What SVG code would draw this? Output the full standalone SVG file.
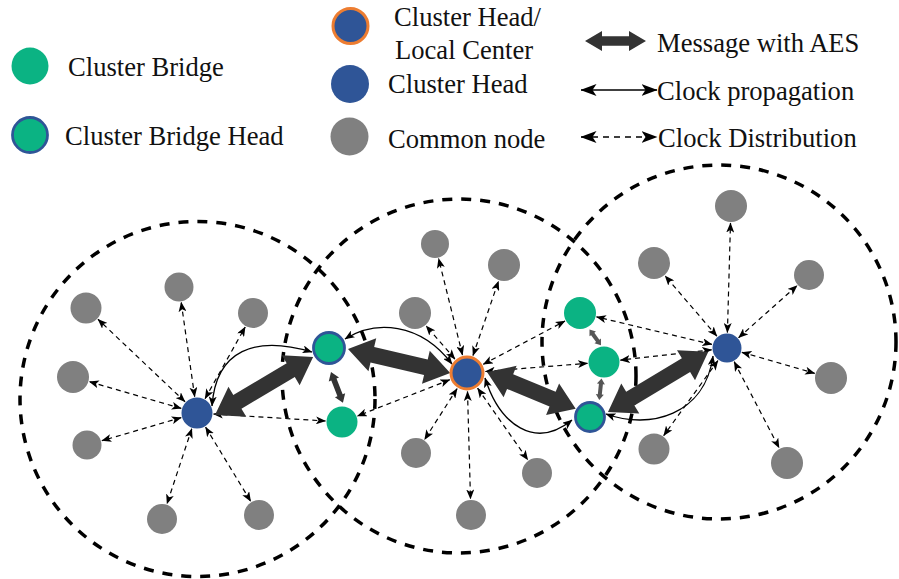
<svg xmlns="http://www.w3.org/2000/svg" width="899" height="579" viewBox="0 0 899 579">
<style>
text{font-family:"Liberation Serif","Times New Roman",serif;font-size:26.6px;fill:#111}
.zone{fill:none;stroke:#000;stroke-width:3.5;stroke-dasharray:10 9}
.com{fill:#808080}
.ch{fill:#2F5597}
.br{fill:#0BB383}
.bh{fill:#0BB383;stroke:#2F5597;stroke-width:2.8}
.lc{fill:#2F5597;stroke:#ED7D31;stroke-width:3}
.dist{fill:none;stroke:#000;stroke-width:1.2;stroke-dasharray:5 4;marker-start:url(#ah);marker-end:url(#ah)}
.prop{fill:none;stroke:#000;stroke-width:1.3;marker-start:url(#ah);marker-end:url(#ah)}
.aes{fill:#333}
.aes2{fill:#555}
</style>
<defs>
<marker id="ah" viewBox="0 0 10 8" markerWidth="10" markerHeight="8" refX="9.5" refY="4" orient="auto-start-reverse" markerUnits="userSpaceOnUse"><path d="M0,0 L10,4 L0,8 L2.5,4 Z" fill="#000"/></marker>
<marker id="ahL" viewBox="0 0 16 12" markerWidth="16" markerHeight="12" refX="15.5" refY="6" orient="auto-start-reverse" markerUnits="userSpaceOnUse"><path d="M0,0 L16,6 L0,12 L4,6 Z" fill="#000"/></marker>
</defs>

<g id="legend">
  <g id="leg-bridge"><circle class="br" cx="30" cy="66" r="18.5"/><text x="68" y="76">Cluster Bridge</text></g>
  <g id="leg-bridge-head"><circle class="bh" cx="30" cy="135" r="17.5"/><text x="65" y="145">Cluster Bridge Head</text></g>
  <g id="leg-local-center"><circle class="lc" cx="350.5" cy="26" r="17.5"/><text x="394" y="26">Cluster Head/</text><text x="395" y="59">Local Center</text></g>
  <g id="leg-cluster-head"><circle class="ch" cx="350" cy="84" r="19"/><text x="388" y="92.5">Cluster Head</text></g>
  <g id="leg-common"><circle class="com" cx="349.5" cy="136.5" r="19"/><text x="388" y="148">Common node</text></g>
  <g id="leg-aes"><path class="aes" transform="translate(585,41)" d="M0,0 L17,-10 L17,-4.7 L44,-4.7 L44,-10 L61,0 L44,10 L44,4.7 L17,4.7 L17,10 Z"/><text x="657" y="52">Message with AES</text></g>
  <g id="leg-prop"><path d="M581,90 L657,90" fill="none" stroke="#000" stroke-width="1.3" marker-start="url(#ahL)" marker-end="url(#ahL)"/><text x="657" y="100">Clock propagation</text></g>
  <g id="leg-dist"><path d="M581,137 L657,137" fill="none" stroke="#000" stroke-width="1.3" stroke-dasharray="6 5" marker-start="url(#ahL)" marker-end="url(#ahL)"/><text x="658" y="147">Clock Distribution</text></g>
</g>

<g id="zones">
  <circle class="zone" cx="197.5" cy="399" r="177.5"/>
  <circle class="zone" cx="459" cy="376" r="177"/>
  <circle class="zone" cx="719" cy="342" r="177"/>
</g>

<g id="connectors">
  <!-- clock distribution, left cluster -->
  <path class="dist" d="M185,401.7 L98,319.3"/>
  <path class="dist" d="M194.7,396.7 L181.2,302.3"/>
  <path class="dist" d="M205.1,398.6 L245.2,327"/>
  <path class="dist" d="M181.2,408.4 L89.3,381.7"/>
  <path class="dist" d="M181.2,417.6 L101.9,440.7"/>
  <path class="dist" d="M191.8,428.7 L167,503.8"/>
  <path class="dist" d="M205.6,427.1 L250.7,501.3"/>
  <path class="dist" d="M213.5,414 L325.5,421"/>
  <!-- clock distribution, middle cluster -->
  <path class="dist" d="M462.5,355 L438.6,258.6"/>
  <path class="dist" d="M473,355.5 L498.5,281.1"/>
  <path class="dist" d="M454.9,359 L426.1,325.8"/>
  <path class="dist" d="M457.1,388.6 L424.6,439.5"/>
  <path class="dist" d="M467.5,391.5 L470.5,499"/>
  <path class="dist" d="M477.6,388.2 L527.8,459.9"/>
  <path class="dist" d="M449.8,379.8 L357.4,416"/>
  <path class="dist" d="M483.3,364.3 L565,321"/>
  <path class="dist" d="M485.4,371.5 L587.5,363.3"/>
  <!-- clock distribution, right cluster -->
  <path class="dist" d="M727.4,332.5 L730.5,223"/>
  <path class="dist" d="M716.9,336.2 L665.1,275.9"/>
  <path class="dist" d="M738.6,337.7 L797.1,285.6"/>
  <path class="dist" d="M741.9,352.3 L814.7,373.3"/>
  <path class="dist" d="M734.2,361.7 L779.1,447.9"/>
  <path class="dist" d="M717.9,360.6 L663.7,435.6"/>
  <path class="dist" d="M711.9,344.4 L596.5,316.9"/>
  <path class="dist" d="M711.6,349.8 L620.4,360.1"/>
  <!-- clock propagation -->
  <path class="prop" d="M212,406 C216,350 255,335 312,352"/>
  <path class="prop" d="M345,339 C375,320 420,322 452,364"/>
  <path class="prop" d="M485,378 C500,425 535,450 572,420"/>
  <path class="prop" d="M606,414 C650,430 705,415 713,356"/>
  <!-- messages with AES -->
  <path class="aes" transform="translate(215,415) rotate(-30.6)" d="M0,0 L26,-17.5 L26,-8 L88,-8 L88,-17.5 L114,0 L88,17.5 L88,8 L26,8 L26,17.5 Z"/>
  <path class="aes" transform="translate(348,349) rotate(13.2)" d="M0,0 L25,-17 L25,-8 L80,-8 L80,-17 L105,0 L80,17 L80,8 L25,8 L25,17 Z"/>
  <path class="aes" transform="translate(487,372) rotate(22.5)" d="M0,0 L25,-17 L25,-8 L71,-8 L71,-17 L96,0 L71,17 L71,8 L25,8 L25,17 Z"/>
  <path class="aes" transform="translate(608,412) rotate(-31)" d="M0,0 L26,-17.5 L26,-8 L91,-8 L91,-17.5 L117,0 L91,17.5 L91,8 L26,8 L26,17.5 Z"/>
  <path class="aes" transform="translate(331,372) rotate(68.8)" d="M0,0 L8,-5.5 L8,-2.8 L25,-2.8 L25,-5.5 L33,0 L25,5.5 L25,2.8 L8,2.8 L8,5.5 Z"/>
  <path class="aes2" transform="translate(589.5,329.5) rotate(54)" d="M0,0 L5.5,-4 L5.5,-2 L14,-2 L14,-4 L19.5,0 L14,4 L14,2 L5.5,2 L5.5,4 Z"/>
  <path class="aes2" transform="translate(601.5,378.5) rotate(96)" d="M0,0 L5.5,-4 L5.5,-2 L16,-2 L16,-4 L21.5,0 L16,4 L16,2 L5.5,2 L5.5,4 Z"/>
</g>

<g id="nodes">
  <g id="head-left"><circle class="ch" cx="197" cy="413" r="15.5"/></g>
  <g id="n-l1"><circle class="com" cx="86" cy="308" r="15.5"/></g>
  <g id="n-l2"><circle class="com" cx="179" cy="287" r="14.5"/></g>
  <g id="n-l3"><circle class="com" cx="253" cy="313" r="15"/></g>
  <g id="n-l4"><circle class="com" cx="73" cy="377" r="16"/></g>
  <g id="n-l5"><circle class="com" cx="87" cy="445" r="14.5"/></g>
  <g id="n-l6"><circle class="com" cx="162" cy="519" r="15"/></g>
  <g id="n-l7"><circle class="com" cx="259" cy="515" r="15"/></g>

  <g id="bridge-head-left"><circle class="bh" cx="329" cy="348" r="15.5"/></g>
  <g id="bridge-left"><circle class="br" cx="342" cy="422" r="15.5"/></g>

  <g id="local-center"><circle class="lc" cx="467" cy="373" r="16"/></g>
  <g id="n-m1"><circle class="com" cx="435" cy="244" r="14"/></g>
  <g id="n-m2"><circle class="com" cx="504" cy="265" r="16"/></g>
  <g id="n-m3"><circle class="com" cx="415" cy="313" r="16"/></g>
  <g id="n-m4"><circle class="com" cx="416" cy="453" r="15"/></g>
  <g id="n-m5"><circle class="com" cx="471" cy="515" r="15"/></g>
  <g id="n-m6"><circle class="com" cx="537" cy="473" r="15"/></g>

  <g id="bridge-right-top"><circle class="br" cx="580" cy="313" r="16"/></g>
  <g id="bridge-right-mid"><circle class="br" cx="604" cy="362" r="15.5"/></g>
  <g id="bridge-head-right"><circle class="bh" cx="590" cy="417" r="14.5"/></g>

  <g id="head-right"><circle class="ch" cx="727" cy="348" r="14.5"/></g>
  <g id="n-r1"><circle class="com" cx="731" cy="206" r="16"/></g>
  <g id="n-r2"><circle class="com" cx="654" cy="263" r="16"/></g>
  <g id="n-r3"><circle class="com" cx="809" cy="275" r="15"/></g>
  <g id="n-r4"><circle class="com" cx="831" cy="378" r="16"/></g>
  <g id="n-r5"><circle class="com" cx="787" cy="463" r="16"/></g>
  <g id="n-r6"><circle class="com" cx="654" cy="449" r="15.5"/></g>
</g>
</svg>
